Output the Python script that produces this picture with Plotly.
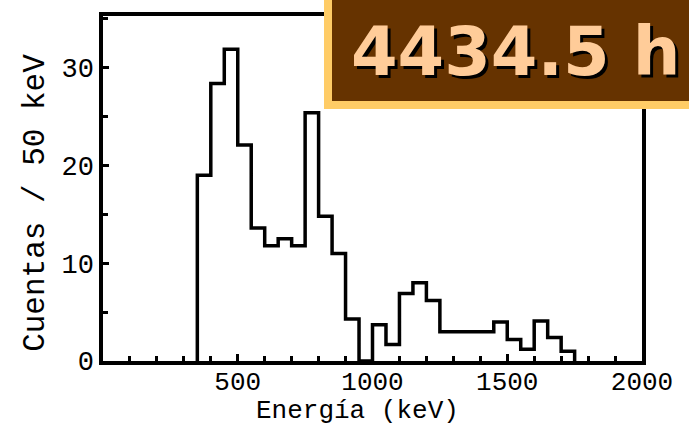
import plotly.graph_objects as go

# Histogram data (50 keV bins)
bin_start = 350
bin_width = 50
counts = [19.0, 28.4, 31.9, 22.1, 13.6, 11.8, 12.5, 11.8, 25.4, 14.8, 11.0, 4.3,
          0.0, 3.7, 1.7, 6.9, 8.0, 6.2, 3.0, 3.0, 3.0, 3.0, 4.0, 2.2, 1.2, 4.1, 2.4, 1.0]
x_ticks = [500, 1000, 1500, 2000]
y_ticks = [0, 10, 20, 30]
title_text = "4434.5 h"
x_title = "Energía (keV)"
y_title = "Cuentas / 50 keV"

edges = [bin_start + i * bin_width for i in range(len(counts) + 1)]
xs = [edges[0]] + edges[:-1] + [edges[-1]]
ys = [0] + counts + [0]

W, H = 689, 425
L, R, T, B = 103, 47, 12, 64
pw, ph = W - L - R, H - T - B

def px(x):
    return (x - L) / pw

def py(y):
    return (H - B - y) / ph

fig = go.Figure()
fig.add_trace(go.Scatter(x=xs, y=ys, mode="lines", line=dict(color="black", width=3.5, shape="hv"),
                         hoverinfo="skip", showlegend=False))

mono = "Liberation Mono"
fig.update_xaxes(range=[0, 2000], tickvals=x_ticks, ticks="inside", ticklen=7, tickwidth=3,
                 tickcolor="black", showline=True, linecolor="black", linewidth=3.5, mirror=True,
                 showgrid=False, zeroline=False, ticklabelstandoff=-6,
                 minor=dict(dtick=100, ticks="inside", ticklen=5, tickwidth=2.5, tickcolor="black"),
                 tickfont=dict(family=mono, size=26, color="black"))
fig.update_yaxes(range=[0, 35.3], tickvals=y_ticks, ticks="inside", ticklen=6, tickwidth=3,
                 tickcolor="black", showline=True, linecolor="black", linewidth=3.5, mirror=True,
                 showgrid=False, zeroline=False,
                 minor=dict(dtick=5, ticks="inside", ticklen=5, tickwidth=2.5, tickcolor="black"),
                 tickfont=dict(family=mono, size=27, color="black"))

# title box
fig.add_shape(type="rect", xref="paper", yref="paper",
              x0=px(328), x1=px(760), y0=py(102), y1=py(-20),
              fillcolor="#663300", line=dict(color="#FFCC66", width=8), layer="above")

fig.add_annotation(text="<b>" + title_text + "</b>", xref="paper", yref="paper",
                   x=px(516 + 3), y=py(48 + 3), xanchor="center", yanchor="middle", showarrow=False,
                   font=dict(family="DejaVu Sans", size=67, color="black"))
fig.add_annotation(text="<b>" + title_text + "</b>", xref="paper", yref="paper",
                   x=px(516), y=py(48), xanchor="center", yanchor="middle", showarrow=False,
                   font=dict(family="DejaVu Sans", size=67, color="#FFCC99"))

fig.add_annotation(text=x_title, xref="paper", yref="paper",
                   x=px(357), y=py(412), xanchor="center", yanchor="middle", showarrow=False,
                   font=dict(family=mono, size=26, color="black"))
fig.add_annotation(text=y_title, xref="paper", yref="paper", textangle=-90,
                   x=px(36), y=py(201), xanchor="center", yanchor="middle", showarrow=False,
                   font=dict(family=mono, size=31, color="black"))

fig.update_layout(width=W, height=H, margin=dict(l=L, r=R, t=T, b=B),
                  paper_bgcolor="white", plot_bgcolor="white",
                  font=dict(family=mono, color="black"))

fig.write_html("out.html")
